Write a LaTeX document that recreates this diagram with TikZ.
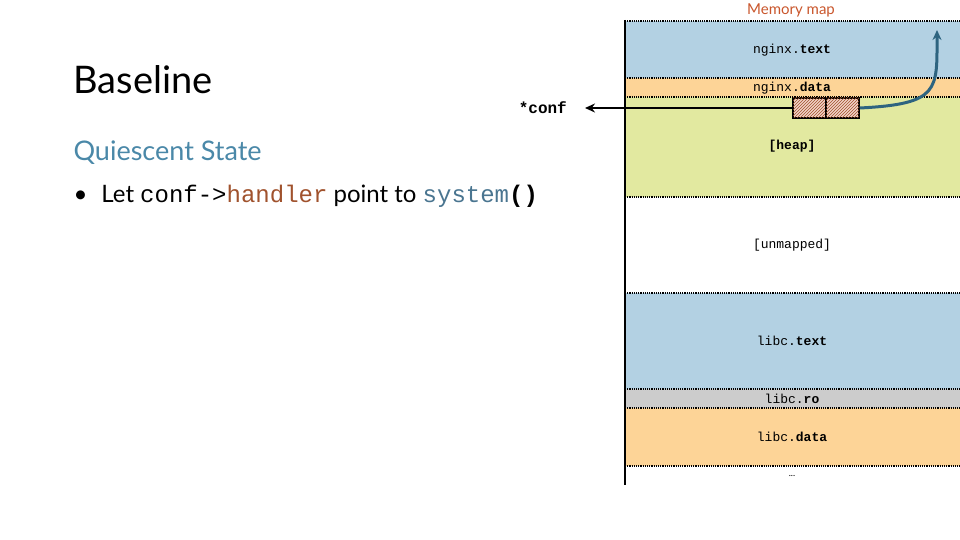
\documentclass[tikz,border=0pt]{standalone}
\usepackage{fontspec}
\setmainfont{Lato}
\setmonofont{Liberation Mono}
\usetikzlibrary{patterns,arrows.meta}
\definecolor{bblue}{HTML}{B3D1E3}
\definecolor{borange}{HTML}{FDD497}
\definecolor{bgreen}{HTML}{E2E9A0}
\definecolor{bgrey}{HTML}{CCCCCC}
\definecolor{titlered}{HTML}{C9562C}
\definecolor{qblue}{HTML}{4A88A8}
\definecolor{hbrown}{HTML}{A0522D}
\definecolor{hpink}{HTML}{F2D3C8}
\definecolor{sysblue}{HTML}{4A7590}
\definecolor{arrblue}{HTML}{2E6480}
\begin{document}
\begin{tikzpicture}[x=1pt,y=-1pt,
  lbl/.style={font=\ttfamily\fontsize{13}{14}\selectfont,inner sep=0pt},
  sep/.style={densely dotted,line width=1.2pt},
  cell/.style={draw,line width=1.5pt,fill=hpink,postaction={pattern=north east lines,pattern color=hbrown},minimum width=33pt,minimum height=20pt,inner sep=0pt}]
\useasboundingbox (0,0) rectangle (960,540);
\fill[bblue] (625,21) rectangle (960,78);
\fill[borange] (625,78) rectangle (960,97);
\fill[bgreen] (625,97) rectangle (960,197);
\fill[bblue] (625,293) rectangle (960,389);
\fill[bgrey] (625,389) rectangle (960,408);
\fill[borange] (625,408) rectangle (960,466);
\foreach \y in {21,78,97,197,293,389,408,466} \draw[sep] (625,\y) -- (960,\y);
\draw[line width=1.2pt] (625,20) -- (625,485);
\node[lbl] (nt) at (792,50) {nginx.\textbf{text}};
\node[lbl] (nd) at (792,88) {nginx.\textbf{data}};
\node[lbl] (hp) at (792,146) {\textbf{[heap]}};
\node[lbl] (um) at (792,245) {[unmapped]};
\node[lbl] (lt) at (792,341) {libc.\textbf{text}};
\node[lbl] (lr) at (792,399) {libc.\textbf{ro}};
\node[lbl] (ld) at (792,437) {libc.\textbf{data}};
\node[font=\fontsize{9}{10}\selectfont,inner sep=0pt] (dots) at (792,476) {...};
\node[text=titlered,font=\fontsize{15}{16}\selectfont] (mm) at (791,10) {Memory map};
\node[cell] (c1) at (809.5,108) {};
\node[cell] (c2) at (842.5,108) {};
\node[font=\ttfamily\bfseries\fontsize{16}{18}\selectfont,anchor=east,inner sep=0pt] (conf) at (567,108) {*conf};
\coordinate (ae) at (585,108);
\coordinate (be) at (937,30);
\draw[line width=2pt,-{Stealth[length=10pt,width=9pt]}] (c1.west) -- (ae);
\draw[arrblue,line width=3pt,-{Stealth[length=10pt,width=9pt]}] (c2.east) .. controls (940,104) and (937,90) .. (be);
\node[anchor=west,font=\fontsize{38}{42}\selectfont] (title) at (70,80) {Baseline};
\node[anchor=west,text=qblue,font=\fontsize{27}{30}\selectfont] (qs) at (70,153) {Quiescent State};
\node[anchor=west,font=\fontsize{24}{28}\selectfont] (bl) at (70,196) {\textbullet\hspace{14pt}Let \texttt{conf->\textcolor{hbrown}{handler}} point to \texttt{\textcolor{sysblue}{system}\textbf{()}}};
\end{tikzpicture}
\end{document}
